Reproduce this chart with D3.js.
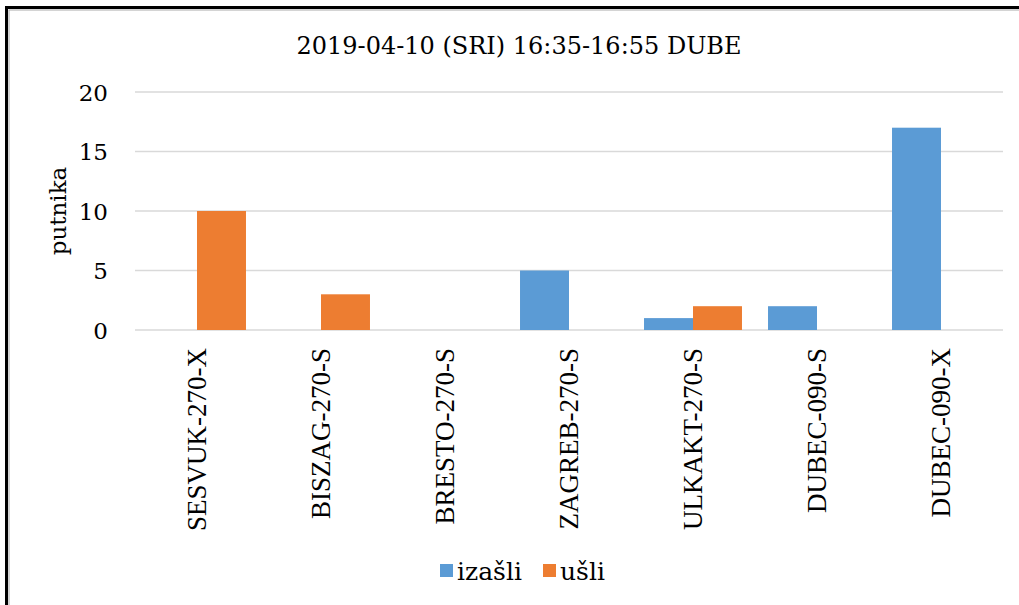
<!DOCTYPE html>
<html>
<head>
	<meta charset="UTF-8" />
	<title>DUBE putnici</title>
	<script src="https://cdn.jsdelivr.net/npm/d3@7"></script>
	<style>
		body { margin: 0; background: #fff; }
		svg { display: block; }
	</style>
</head>
<body>
	<div id="chart"></div>

	<script type="text/javascript">
		// podaci
		var kategorije = ['SESVUK-270-X', 'BISZAG-270-S', 'BRESTO-270-S', 'ZAGREB-270-S', 'ULKAKT-270-S', 'DUBEC-090-S', 'DUBEC-090-X'];
		var izasli = [0, 0, 0, 5, 1, 2, 17];
		var usli = [10, 3, 0, 0, 2, 0, 0];
		var serije = ['izašli', 'ušli'];
		var boje = ['#5B9BD5', '#ED7D31'];
		var yTicks = [0, 5, 10, 15, 20];
		var naslov = '2019-04-10 (SRI) 16:35-16:55 DUBE';

		var W = 1019, H = 605;
		var serif = '"DejaVu Serif", serif';

		var svg = d3.select('#chart').append('svg')
			.attr('width', W)
			.attr('height', H);

		svg.append('rect').attr('width', W).attr('height', H).attr('fill', '#fff');

		// okvir (desni i donji rub izvan slike)
		svg.append('rect')
			.attr('x', 9).attr('y', 10)
			.attr('width', 1200).attr('height', 800)
			.attr('fill', 'none')
			.attr('stroke', '#aaa')
			.attr('stroke-width', 1);
		svg.append('rect')
			.attr('x', 6.5).attr('y', 7.5)
			.attr('width', 1200).attr('height', 800)
			.attr('fill', 'none')
			.attr('stroke', '#000')
			.attr('stroke-width', 3);

		var x0 = d3.scaleBand().domain(kategorije).range([135, 1003]);
		var bw = x0.bandwidth() * 0.395;
		var x1 = d3.scaleBand().domain(serije).range([-bw, bw]);
		var y = d3.scaleLinear().domain([0, 20]).range([330, 92]);

		// mreza
		svg.append('g').selectAll('line')
			.data(yTicks)
			.enter().append('line')
			.attr('x1', 135).attr('x2', 1003)
			.attr('y1', function(d) { return y(d); })
			.attr('y2', function(d) { return y(d); })
			.attr('stroke', '#d9d9d9')
			.attr('stroke-width', 1.5);

		// y os
		var yAxis = d3.axisLeft(y).tickValues(yTicks).tickSize(0).tickPadding(0);
		var gy = svg.append('g')
			.attr('transform', 'translate(108,0)')
			.call(yAxis);
		gy.select('.domain').remove();
		gy.selectAll('text')
			.attr('font-family', serif)
			.attr('font-size', '23px')
			.attr('fill', '#000')
			.attr('dy', '0.36em');

		// stupci
		var podaci = kategorije.map(function(k, i) {
			return { k: k, v: [izasli[i], usli[i]] };
		});
		var grupe = svg.append('g').selectAll('g')
			.data(podaci)
			.enter().append('g')
			.attr('transform', function(d) { return 'translate(' + (x0(d.k) + x0.bandwidth() / 2) + ',0)'; });
		grupe.selectAll('rect')
			.data(function(d) { return d.v.map(function(v, j) { return { s: serije[j], v: v, j: j }; }); })
			.enter().append('rect')
			.filter(function(d) { return d.v > 0; })
			.attr('x', function(d) { return x1(d.s); })
			.attr('width', x1.bandwidth())
			.attr('y', function(d) { return y(d.v); })
			.attr('height', function(d) { return y(0) - y(d.v); })
			.attr('fill', function(d) { return boje[d.j]; });

		// x os - okomiti nazivi
		var xAxis = d3.axisBottom(x0).tickSize(0).tickPadding(0);
		var gx = svg.append('g')
			.attr('transform', 'translate(0,348)')
			.call(xAxis);
		gx.select('.domain').remove();
		gx.selectAll('text')
			.attr('font-family', '"Liberation Serif", serif')
			.attr('font-size', '27px')
			.attr('fill', '#000')
			.attr('text-anchor', 'end')
			.attr('transform', 'rotate(-90)')
			.attr('x', 0)
			.attr('y', 0)
			.attr('dy', '0.33em');

		// naslov
		svg.append('text')
			.attr('x', 519)
			.attr('y', 54)
			.attr('text-anchor', 'middle')
			.attr('font-family', serif)
			.attr('font-size', '24px')
			.attr('fill', '#000')
			.text(naslov);

		// y naziv
		svg.append('text')
			.attr('transform', 'translate(66,211) rotate(-90)')
			.attr('text-anchor', 'middle')
			.attr('font-family', serif)
			.attr('font-size', '23px')
			.attr('fill', '#000')
			.text('putnika');

		// legenda
		var legX = [440, 543];
		var leg = svg.append('g').selectAll('g')
			.data(serije)
			.enter().append('g')
			.attr('transform', function(d, i) { return 'translate(' + legX[i] + ',564)'; });
		leg.append('rect')
			.attr('width', 13).attr('height', 13)
			.attr('fill', function(d, i) { return boje[i]; });
		leg.append('text')
			.attr('x', 17)
			.attr('y', 16)
			.attr('font-family', serif)
			.attr('font-size', '25px')
			.attr('fill', '#000')
			.text(function(d) { return d; });
	</script>
</body>
</html>
